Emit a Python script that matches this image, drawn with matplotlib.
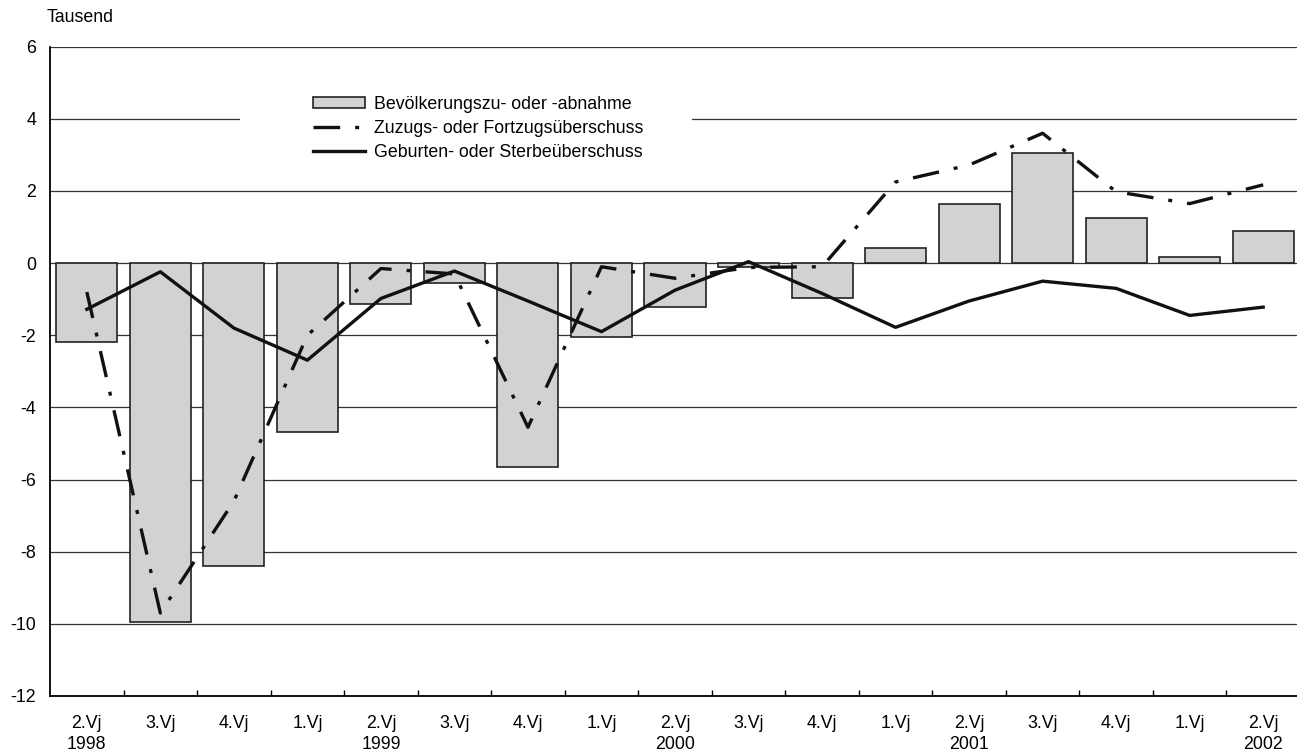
import matplotlib
matplotlib.use("Agg")
import matplotlib.pyplot as plt
from matplotlib.patches import Patch, Rectangle
from matplotlib.lines import Line2D
import numpy as np

plt.rcParams['font.family'] = ['Liberation Sans', 'DejaVu Sans']
plt.rcParams['axes.unicode_minus'] = False

# Daten (Tausend)
quartale = ["2.Vj\n1998", "3.Vj", "4.Vj", "1.Vj", "2.Vj\n1999", "3.Vj", "4.Vj",
            "1.Vj", "2.Vj\n2000", "3.Vj", "4.Vj", "1.Vj", "2.Vj\n2001", "3.Vj",
            "4.Vj", "1.Vj", "2.Vj\n2002"]
bevoelkerung = [-2.18, -9.95, -8.4, -4.68, -1.14, -0.55, -5.65, -2.04, -1.21,
                -0.12, -0.98, 0.42, 1.65, 3.05, 1.25, 0.18, 0.9]
wanderung = [-0.8, -9.7, -6.6, -2.0, -0.15, -0.3, -4.55, -0.1, -0.42,
             -0.12, -0.1, 2.25, 2.72, 3.6, 1.98, 1.65, 2.17]
natuerlich = [-1.28, -0.24, -1.8, -2.69, -0.98, -0.22, -1.05, -1.9, -0.75,
              0.04, -0.84, -1.78, -1.05, -0.5, -0.7, -1.45, -1.22]

x = np.arange(len(quartale))
fs = 12.8
strich = (0, (8, 4.5, 1.2, 4.5))

fig = plt.figure(figsize=(12.97, 7.53), dpi=100)
ax = fig.add_axes([0.0386, 0.0757, 0.9614, 0.8623])

ax.bar(x, bevoelkerung, width=0.83, color='#d2d2d2', edgecolor='#222222',
       linewidth=1.2, zorder=2)
ax.plot(x, wanderung, color='#111111', linewidth=2.4, linestyle=strich, zorder=3)
ax.plot(x, natuerlich, color='#111111', linewidth=2.4, zorder=3)

# Achsen
ax.set_xlim(-0.5, 16.46)
ax.set_ylim(-12, 6)
ax.set_yticks(range(-12, 7, 2))
ax.set_yticklabels([str(v) for v in range(-12, 7, 2)])
ax.set_xticks(x)
ax.set_xticklabels(quartale, linespacing=1.3)
ax.set_xticks(x[:-1] + 0.5, minor=True)
ax.tick_params(axis='x', which='major', length=0, pad=14, labelsize=fs)
ax.tick_params(axis='x', which='minor', direction='in', length=4, width=1)
ax.tick_params(axis='y', length=0, pad=10, labelsize=fs)
ax.yaxis.grid(True, color='#333333', linewidth=0.9)
ax.set_axisbelow(True)

for s in ['top', 'right']:
    ax.spines[s].set_visible(False)
for s in ['left', 'bottom']:
    ax.spines[s].set_linewidth(1.3)
    ax.spines[s].set_color('black')

# Legende ueberdeckt die Gitterlinie bei 4
ax.add_patch(Rectangle((0.152, 0.86), 0.363, 0.07, transform=ax.transAxes,
                       facecolor='white', edgecolor='none', zorder=1.5))

handles = [
    Patch(facecolor='#d2d2d2', edgecolor='#222222', linewidth=1.2),
    Line2D([], [], color='#111111', linewidth=2.4, linestyle=strich),
    Line2D([], [], color='#111111', linewidth=2.4),
]
labels = ["Bevölkerungszu- oder -abnahme", "Zuzugs- oder Fortzugsüberschuss",
          "Geburten- oder Sterbeüberschuss"]
ax.legend(handles, labels, loc='upper left', bbox_to_anchor=(0.198, 0.949),
          frameon=False, fontsize=fs, handlelength=2.9, handleheight=0.5,
          handletextpad=0.55, labelspacing=0.4)

fig.text(47 / 1297, 1 - 18 / 753, "Tausend", fontsize=fs, va='center', ha='left')

plt.savefig("out.png", dpi=100)
